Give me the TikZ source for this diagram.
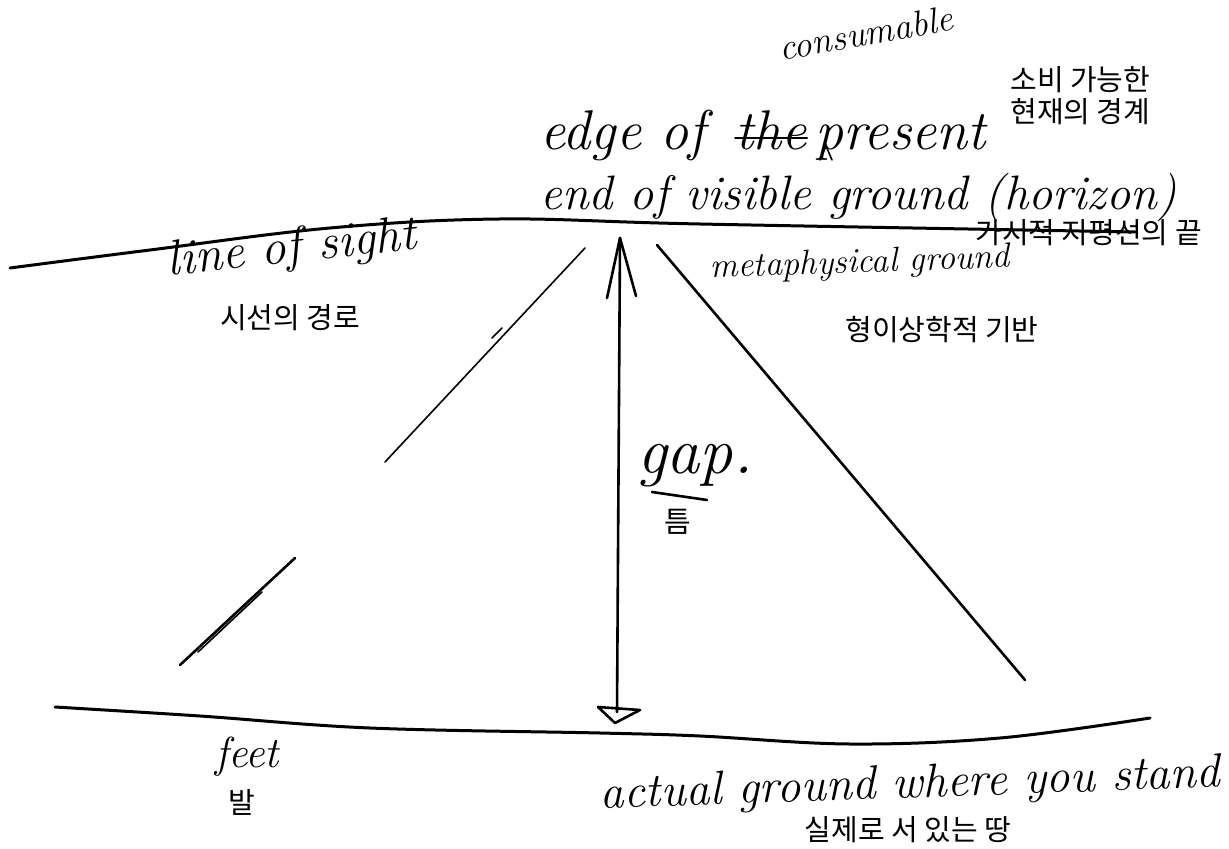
\documentclass[tikz,border=0pt]{standalone}
\usepackage{fontspec}
\newfontfamily\kr{Noto Sans CJK KR}
\usepackage{graphicx}
\begin{document}
\begin{tikzpicture}[x=0.5pt,y=-0.5pt,
  hand/.style={font=\fontsize{28}{30}\selectfont\itshape, inner sep=0pt},
  kor/.style={font=\kr\fontsize{14.5}{16}\selectfont, inner sep=0pt},
  stroke/.style={line width=1.3pt, line cap=round, line join=round},
  thinstroke/.style={line width=0.8pt, line cap=round, line join=round}]
\useasboundingbox (0,0) rectangle (1229,849);

% handwritten labels
\node[hand, rotate=10] (consum) at (866,33) {\resizebox{88pt}{!}{consumable}};
\node[hand, anchor=base west] (edgeof) at (540,150) {edge of};
\node[hand, anchor=base west] (the) at (735,150) {the};
\node[hand, anchor=base west] (present) at (815,150) {present};
\draw[thinstroke] ([yshift=6pt]the.base west) -- ([yshift=6pt]the.base east);
\draw[thinstroke] (820,160) -- (826,146) -- (832,160);
\node[hand, anchor=base west] (endof) at (540,210) {\resizebox{318pt}{!}{end of visible ground (horizon)}};
\node[hand, rotate=6] (los) at (292,250) {\resizebox{125pt}{!}{line of sight}};
\node[hand, rotate=2] (meta) at (860,264) {\resizebox{150pt}{!}{metaphysical ground}};
\node[hand] (gap) at (695,466) {\resizebox{58pt}{!}{gap.}};
\draw[stroke] (652,492) -- (707,500);
\node[hand] (feet) at (247,757) {\resizebox{32pt}{!}{feet}};
\node[hand, rotate=2] (actual) at (910,786) {\resizebox{310pt}{!}{actual ground where you stand}};

% Korean labels
\node[kor, anchor=west] (sobi) at (1010,80) {소비 가능한};
\node[kor, anchor=west] (hyeonjae) at (1010,112) {현재의 경계};
\node[kor, anchor=west] (gasi) at (975,233) {가시적 지평선의 끝};
\node[kor] (siseon) at (290,318) {시선의 경로};
\node[kor] (hyeong) at (942,330) {형이상학적 기반};
\node[kor] (teum) at (678,522) {틈};
\node[kor] (bal) at (242,802) {발};
\node[kor] (silje) at (908,830) {실제로 서 있는 땅};

% key points
\coordinate (apexL) at (585,248);
\coordinate (apexM) at (620,238);
\coordinate (apexR) at (657,245);
\coordinate (startL) at (385,462);
\coordinate (footM) at (617,712);
\coordinate (endR) at (1025,680);
\coordinate (feetA) at (180,665);
\coordinate (feetB) at (295,558);

% horizon / line of sight
\draw[stroke, line width=1.5pt] plot[smooth, tension=0.6] coordinates {(10,268) (150,250) (330,228) (500,219) (700,224) (1135,232)};
% ground
\draw[stroke, line width=1.5pt] plot[smooth, tension=0.6] coordinates {(55,707) (200,716) (370,728) (600,733) (700,736) (850,744) (1000,738) (1150,718)};

% left line of sight arrow
\draw[thinstroke] (startL) -- (apexL);
\draw[thinstroke] (492,338) -- (502,328);
\draw[stroke] (feetA) -- (feetB);
\draw[thinstroke] (198,652) -- (262,592);
% middle double arrow
\draw[stroke] (apexM) -- (footM);
\draw[stroke] (607,298) -- (apexM) -- (636,296);
\draw[stroke] (598,707) -- (640,710) -- (615,723) -- cycle;
% right line
\draw[stroke] (apexR) -- (endR);
\end{tikzpicture}
\end{document}
